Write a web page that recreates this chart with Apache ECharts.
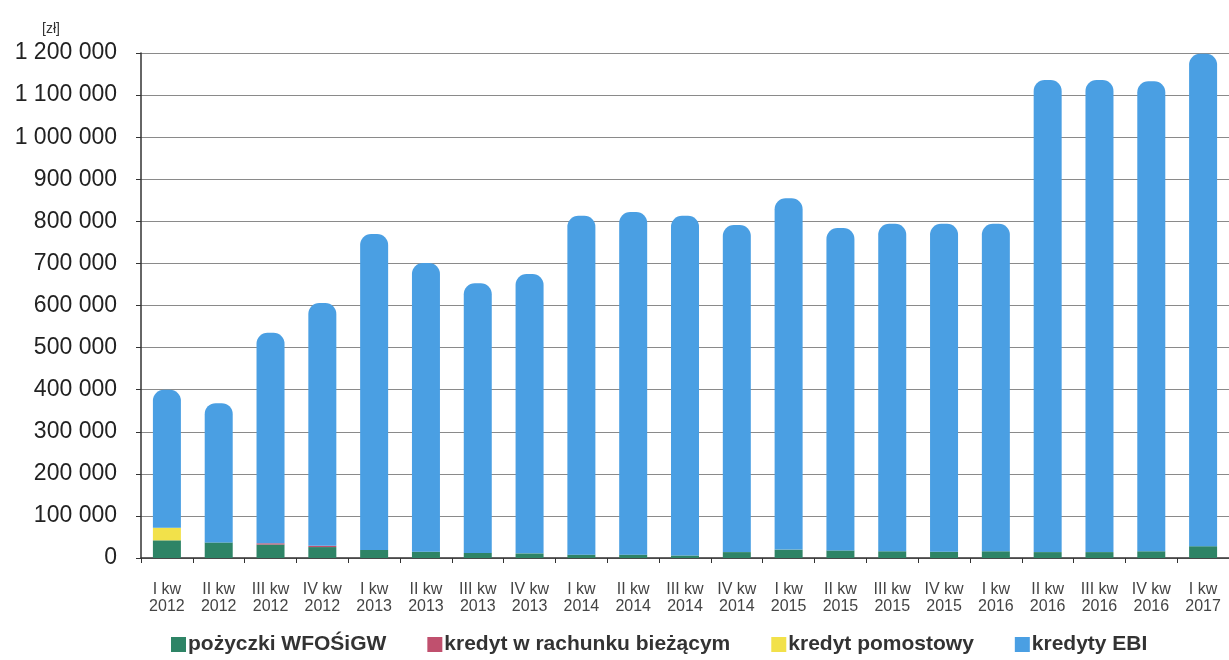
<!DOCTYPE html>
<html><head><meta charset="utf-8">
<script src="https://cdn.jsdelivr.net/npm/echarts@6/dist/echarts.min.js"></script>
<style>html,body{margin:0;padding:0;background:#fff}#c{width:1229px;height:660px}</style>
</head><body><div id="c"></div>
<script>
const categories = ["I kw\n2012","II kw\n2012","III kw\n2012","IV kw\n2012","I kw\n2013","II kw\n2013","III kw\n2013","IV kw\n2013","I kw\n2014","II kw\n2014","III kw\n2014","IV kw\n2014","I kw\n2015","II kw\n2015","III kw\n2015","IV kw\n2015","I kw\n2016","II kw\n2016","III kw\n2016","IV kw\n2016","I kw\n2017"];
const pozyczki = [42000,37000,32000,26000,19000,15000,12000,11000,8000,8000,6000,14000,20000,18000,16000,15000,16000,14000,14000,16000,28000];
const kredytBiezacy = [0,0,3000,3000,0,0,0,0,0,0,0,0,0,0,0,0,0,0,0,0,0];
const kredytPomostowy = [30000,0,0,0,0,0,0,0,0,0,0,0,0,0,0,0,0,0,0,0,0];
const totals = [400000,368000,535000,606000,770000,701000,653000,675000,813000,822000,813000,791000,855000,784000,794000,794000,794000,1136000,1136000,1133000,1198000];
const kredytyEBI = totals.map((t,i)=>t-pozyczki[i]-kredytBiezacy[i]-kredytPomostowy[i]);
const yTicks = [0,100000,200000,300000,400000,500000,600000,700000,800000,900000,1000000,1100000,1200000];
const fmt = v => String(v).replace(/\B(?=(\d{3})+(?!\d))/g,' ');
const chart = echarts.init(document.getElementById('c'));
const F = 'Liberation Sans, Arial, sans-serif';
chart.setOption({
  animation:false,
  textStyle:{fontFamily:F},
  grid:{left:141,top:53,width:1094,height:505},
  title:{text:'[zł]',left:37,top:17,textStyle:{fontSize:14,fontWeight:'normal',color:'#333',fontFamily:F}},
  legend:{bottom:0,left:166,itemWidth:15,itemHeight:15,itemGap:41,icon:'rect',
    textStyle:{fontSize:21,fontWeight:'bold',color:'#333',fontFamily:F,padding:[0,0,0,-3]},
    data:['pożyczki WFOŚiGW','kredyt w rachunku bieżącym','kredyt pomostowy','kredyty EBI']},
  xAxis:{type:'category',data:categories,
    axisLine:{lineStyle:{color:'#333',width:1.5}},
    axisTick:{show:true,length:5,lineStyle:{color:'#333'}},
    axisLabel:{fontSize:16,color:'#444',lineHeight:17,margin:23,interval:0,fontFamily:F}},
  yAxis:{type:'value',min:0,max:1200000,interval:100000,
    axisLine:{show:true,lineStyle:{color:'#333',width:1.5}},
    axisTick:{show:true,length:5,lineStyle:{color:'#333'}},
    splitLine:{lineStyle:{color:'#8a8a8a',width:1}},
    axisLabel:{fontSize:23,color:'#222',margin:24,fontFamily:F,
      formatter:v=> yTicks.includes(v)?fmt(v):''}},
  series:[
    {name:'pożyczki WFOŚiGW',type:'bar',stack:'s',barWidth:28,data:pozyczki,itemStyle:{color:'#2e8466'}},
    {name:'kredyt w rachunku bieżącym',type:'bar',stack:'s',barWidth:28,data:kredytBiezacy,itemStyle:{color:'#c0506e'}},
    {name:'kredyt pomostowy',type:'bar',stack:'s',barWidth:28,data:kredytPomostowy,itemStyle:{color:'#f2e14a'}},
    {name:'kredyty EBI',type:'bar',stack:'s',barWidth:28,data:kredytyEBI,itemStyle:{color:'#4a9fe3',borderRadius:[11,11,0,0]}}
  ]
});
</script></body></html>
